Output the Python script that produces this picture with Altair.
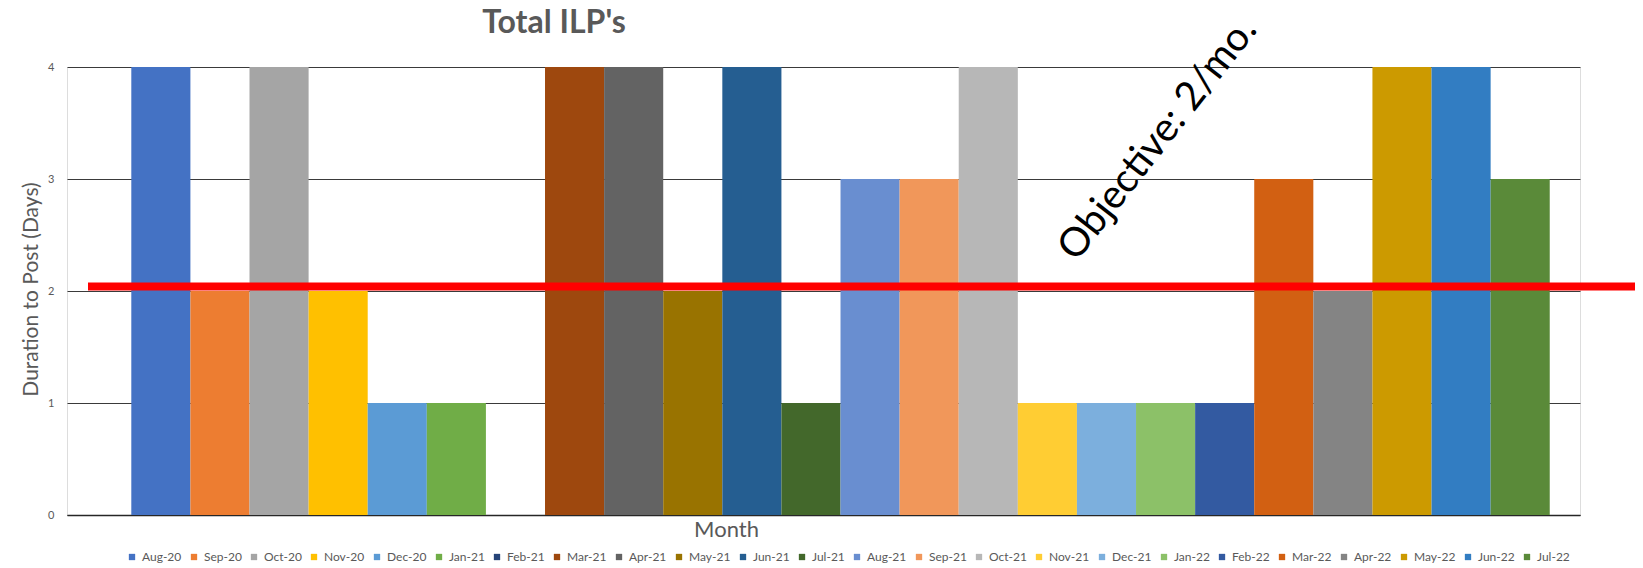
import altair as alt
import pandas as pd

months = ["Aug-20", "Sep-20", "Oct-20", "Nov-20", "Dec-20", "Jan-21", "Feb-21", "Mar-21",
          "Apr-21", "May-21", "Jun-21", "Jul-21", "Aug-21", "Sep-21", "Oct-21", "Nov-21",
          "Dec-21", "Jan-22", "Feb-22", "Mar-22", "Apr-22", "May-22", "Jun-22", "Jul-22"]
values = [4, 2, 4, 2, 1, 1, 0, 4, 4, 2, 4, 1, 3, 3, 4, 1, 1, 1, 1, 3, 2, 4, 4, 3]
colors = ["#4472C4", "#ED7D31", "#A5A5A5", "#FFC000", "#5B9BD5", "#70AD47", "#264478", "#9E480E",
          "#636363", "#997300", "#255E91", "#43682B", "#698ED0", "#F1975A", "#B7B7B7", "#FFCD33",
          "#7CAFDD", "#8CC168", "#335AA1", "#D26012", "#848484", "#CC9A00", "#327DC2", "#5A8A39"]
objective = [2.04]
objective_label = ["Objective: 2/mo."]
title_text = ["Total ILP's"]

df = pd.DataFrame({"month": months, "value": values})
obj_df = pd.DataFrame({"y": objective, "label": objective_label})
title_df = pd.DataFrame({"t": title_text})

FONT = "Lato"
W, H = 1513, 448

bars = alt.Chart(df).mark_bar().encode(
    x=alt.X("month:N", sort=months,
            scale=alt.Scale(paddingInner=0, paddingOuter=0.8, align=0.68),
            axis=alt.Axis(labels=False, ticks=False, domain=True, domainColor="#262626",
                          domainWidth=1.5, grid=False,
                          title="Month", titleFont=FONT, titleFontSize=22,
                          titleFontWeight="normal", titleColor="#595959",
                          titleX=659, titleY=14, titleBaseline="middle",
                          titleAlign="center")),
    y=alt.Y("value:Q", scale=alt.Scale(domain=[0, 4], nice=False),
            axis=alt.Axis(values=[0, 1, 2, 3, 4], format="d", ticks=False, domain=False,
                          grid=True, gridColor="#3a3a3a", gridWidth=1,
                          labelFont=FONT, labelFontSize=11, labelColor="#595959",
                          labelPadding=13,
                          title="Duration to Post (Days)", titleFont=FONT, titleFontSize=21,
                          titleFontWeight="normal", titleColor="#595959",
                          titleAlign="center", titleY=222, titleX=-36,
                          titleBaseline="middle", titleAngle=270)),
    color=alt.Color("month:N", sort=months,
                    scale=alt.Scale(domain=months, range=colors),
                    legend=alt.Legend(title=None, orient="none", direction="horizontal",
                                      columns=24, legendX=59, legendY=484,
                                      symbolType="square", symbolSize=40,
                                      symbolStrokeWidth=0, labelFont=FONT,
                                      labelFontSize=12, labelColor="#595959",
                                      labelOffset=4, columnPadding=6)),
)

red_line = alt.Chart(obj_df).mark_rule(color="#FF0000", strokeWidth=8).encode(
    y="y:Q", x=alt.value(21), x2=alt.value(W + 55)
)

obj_text = alt.Chart(obj_df).mark_text(
    font=FONT, fontSize=40, angle=308, align="center", baseline="middle", color="#000000"
).encode(text="label:N", x=alt.value(1091), y=alt.value(72))

title = alt.Chart(title_df).mark_text(
    font=FONT, fontSize=32, fontWeight="bold", align="center", baseline="middle",
    color="#595959"
).encode(text="t:N", x=alt.value(487), y=alt.value(-44))

chart = alt.layer(bars, red_line, obj_text, title).properties(
    width=W, height=H,
    autosize=alt.AutoSizeParams(type="none"),
    padding={"left": 59, "top": 59, "right": 55, "bottom": 50},
).configure_view(stroke=None).configure(background="white")

chart.save("out.html", embed_options={"renderer": "svg", "actions": False})
